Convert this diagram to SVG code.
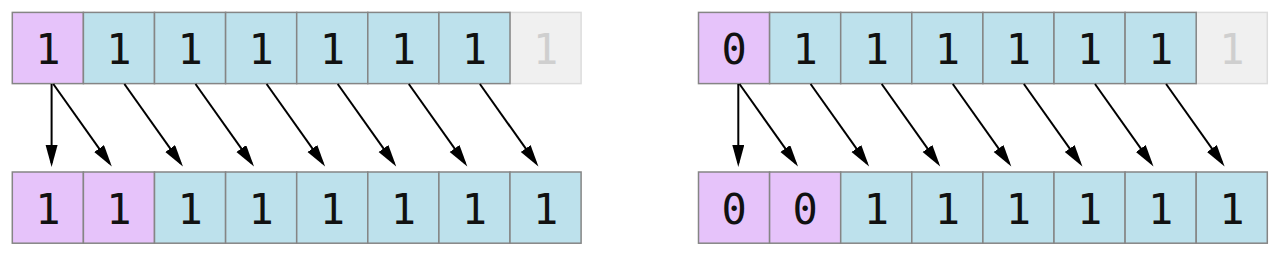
<svg xmlns="http://www.w3.org/2000/svg" width="1280" height="256" viewBox="0 0 1280 256">
<style>
rect{stroke:#858585;stroke-width:1.5}
.p{fill:#e6c3fa}
.b{fill:#bde1ec}
.g{fill:#f0f0f0;stroke:#dcdcdc}
text{font-family:"DejaVu Sans Mono","Liberation Mono",monospace;font-size:42px;text-anchor:middle;fill:#111}
text.gt{fill:#cfcfcf}
.c line{stroke:#000;stroke-width:2;marker-end:url(#ah)}
</style>
<defs>
<marker id="ah" markerUnits="userSpaceOnUse" markerWidth="24" markerHeight="13" refX="18" refY="6" orient="auto">
<path d="M0,0 L22,6 L0,12 z" fill="#000"/>
</marker>
</defs>
<rect width="1280" height="256" fill="#fff" style="stroke:none"/>

<!-- Left array, top row -->
<g id="L-top">
<g id="L-t7"><rect class="g" x="510" y="12.4" width="71.1" height="71.2"/><text class="gt" x="545.6" y="63.8">1</text></g>
<g id="L-t0"><rect class="p" x="12.3" y="12.4" width="71.1" height="71.2"/><text x="47.9" y="63.8">1</text></g>
<g id="L-t1"><rect class="b" x="83.4" y="12.4" width="71.1" height="71.2"/><text x="119" y="63.8">1</text></g>
<g id="L-t2"><rect class="b" x="154.5" y="12.4" width="71.1" height="71.2"/><text x="190.1" y="63.8">1</text></g>
<g id="L-t3"><rect class="b" x="225.6" y="12.4" width="71.1" height="71.2"/><text x="261.2" y="63.8">1</text></g>
<g id="L-t4"><rect class="b" x="296.7" y="12.4" width="71.1" height="71.2"/><text x="332.3" y="63.8">1</text></g>
<g id="L-t5"><rect class="b" x="367.8" y="12.4" width="71.1" height="71.2"/><text x="403.4" y="63.8">1</text></g>
<g id="L-t6"><rect class="b" x="438.9" y="12.4" width="71.1" height="71.2"/><text x="474.5" y="63.8">1</text></g>
</g>

<!-- Left array, bottom row -->
<g id="L-bot">
<g id="L-b0"><rect class="p" x="12.3" y="172" width="71.1" height="71.2"/><text x="47.9" y="223.6">1</text></g>
<g id="L-b1"><rect class="p" x="83.4" y="172" width="71.1" height="71.2"/><text x="119" y="223.6">1</text></g>
<g id="L-b2"><rect class="b" x="154.5" y="172" width="71.1" height="71.2"/><text x="190.1" y="223.6">1</text></g>
<g id="L-b3"><rect class="b" x="225.6" y="172" width="71.1" height="71.2"/><text x="261.2" y="223.6">1</text></g>
<g id="L-b4"><rect class="b" x="296.7" y="172" width="71.1" height="71.2"/><text x="332.3" y="223.6">1</text></g>
<g id="L-b5"><rect class="b" x="367.8" y="172" width="71.1" height="71.2"/><text x="403.4" y="223.6">1</text></g>
<g id="L-b6"><rect class="b" x="438.9" y="172" width="71.1" height="71.2"/><text x="474.5" y="223.6">1</text></g>
<g id="L-b7"><rect class="b" x="510" y="172" width="71.1" height="71.2"/><text x="545.6" y="223.6">1</text></g>
</g>

<!-- Right array, top row -->
<g id="R-top">
<g id="R-t7"><rect class="g" x="1196.2" y="12.4" width="71.1" height="71.2"/><text class="gt" x="1231.8" y="63.8">1</text></g>
<g id="R-t0"><rect class="p" x="698.5" y="12.4" width="71.1" height="71.2"/><text x="734.1" y="63.8">0</text></g>
<g id="R-t1"><rect class="b" x="769.6" y="12.4" width="71.1" height="71.2"/><text x="805.2" y="63.8">1</text></g>
<g id="R-t2"><rect class="b" x="840.7" y="12.4" width="71.1" height="71.2"/><text x="876.3" y="63.8">1</text></g>
<g id="R-t3"><rect class="b" x="911.8" y="12.4" width="71.1" height="71.2"/><text x="947.4" y="63.8">1</text></g>
<g id="R-t4"><rect class="b" x="982.9" y="12.4" width="71.1" height="71.2"/><text x="1018.5" y="63.8">1</text></g>
<g id="R-t5"><rect class="b" x="1054" y="12.4" width="71.1" height="71.2"/><text x="1089.6" y="63.8">1</text></g>
<g id="R-t6"><rect class="b" x="1125.1" y="12.4" width="71.1" height="71.2"/><text x="1160.7" y="63.8">1</text></g>
</g>

<!-- Right array, bottom row -->
<g id="R-bot">
<g id="R-b0"><rect class="p" x="698.5" y="172" width="71.1" height="71.2"/><text x="734.1" y="223.6">0</text></g>
<g id="R-b1"><rect class="p" x="769.6" y="172" width="71.1" height="71.2"/><text x="805.2" y="223.6">0</text></g>
<g id="R-b2"><rect class="b" x="840.7" y="172" width="71.1" height="71.2"/><text x="876.3" y="223.6">1</text></g>
<g id="R-b3"><rect class="b" x="911.8" y="172" width="71.1" height="71.2"/><text x="947.4" y="223.6">1</text></g>
<g id="R-b4"><rect class="b" x="982.9" y="172" width="71.1" height="71.2"/><text x="1018.5" y="223.6">1</text></g>
<g id="R-b5"><rect class="b" x="1054" y="172" width="71.1" height="71.2"/><text x="1089.6" y="223.6">1</text></g>
<g id="R-b6"><rect class="b" x="1125.1" y="172" width="71.1" height="71.2"/><text x="1160.7" y="223.6">1</text></g>
<g id="R-b7"><rect class="b" x="1196.2" y="172" width="71.1" height="71.2"/><text x="1231.8" y="223.6">1</text></g>
</g>

<g id="connectors" class="c">
<line x1="51.6" y1="84" x2="51.6" y2="163"/>
<line x1="53.3" y1="84" x2="109.5" y2="163.2"/>
<line x1="124.4" y1="84" x2="180.6" y2="163.2"/>
<line x1="195.5" y1="84" x2="251.7" y2="163.2"/>
<line x1="266.6" y1="84" x2="322.8" y2="163.2"/>
<line x1="337.7" y1="84" x2="393.9" y2="163.2"/>
<line x1="408.8" y1="84" x2="465" y2="163.2"/>
<line x1="479.9" y1="84" x2="536.1" y2="163.2"/>
<line x1="738.3" y1="84" x2="738.3" y2="163"/>
<line x1="739.5" y1="84" x2="795.7" y2="163.2"/>
<line x1="810.6" y1="84" x2="866.8" y2="163.2"/>
<line x1="881.7" y1="84" x2="937.9" y2="163.2"/>
<line x1="952.8" y1="84" x2="1009" y2="163.2"/>
<line x1="1023.9" y1="84" x2="1080.1" y2="163.2"/>
<line x1="1095" y1="84" x2="1151.2" y2="163.2"/>
<line x1="1166.1" y1="84" x2="1222.3" y2="163.2"/>
</g>
</svg>
